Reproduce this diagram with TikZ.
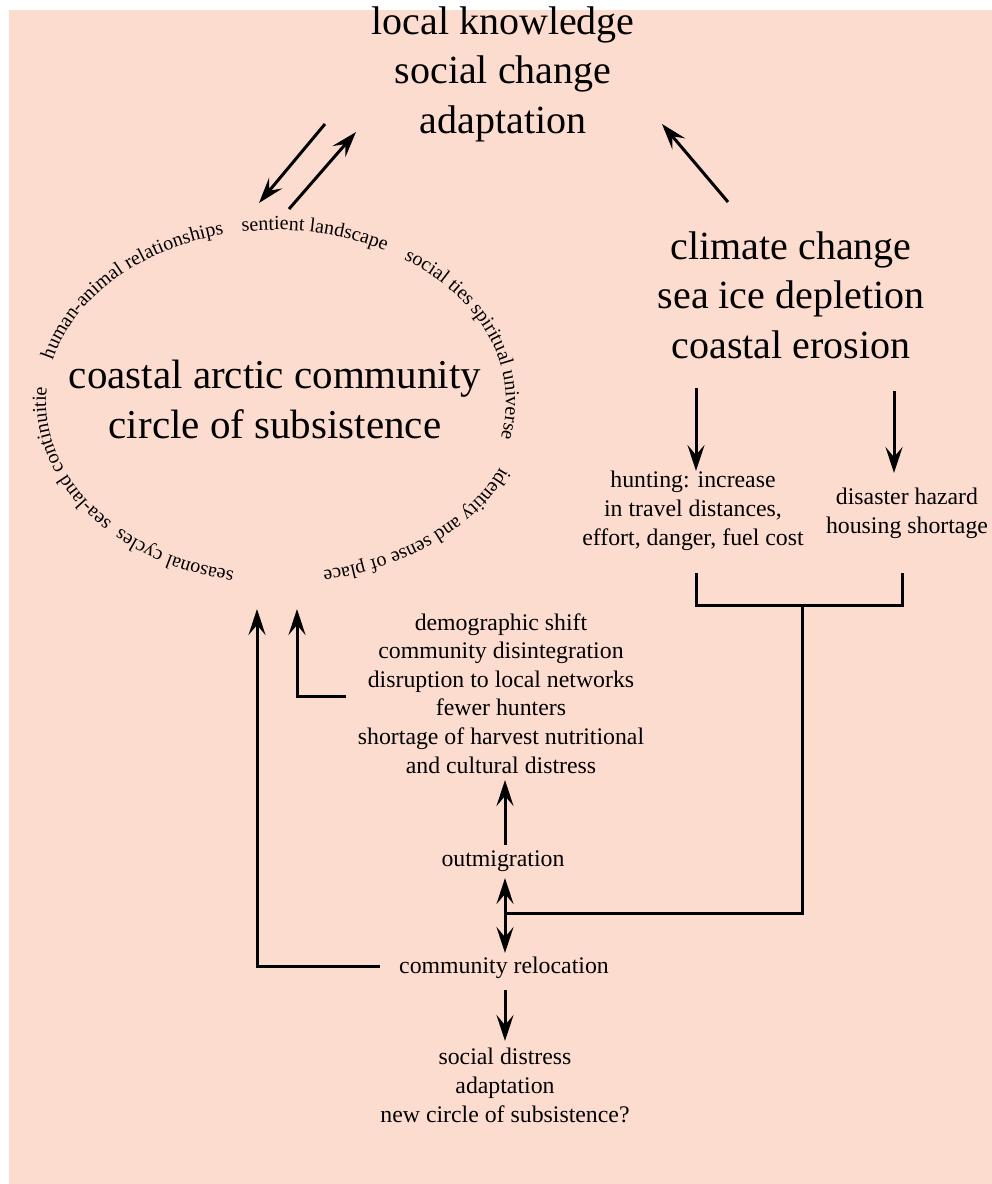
\documentclass[tikz,border=0pt]{standalone}
\usepackage{fontspec}
\setmainfont{Liberation Serif}
\usetikzlibrary{arrows.meta,decorations.text,calc}
\definecolor{bgsalmon}{RGB}{253,220,208}
\newcommand\bigtxt{\fontsize{40}{49.5}\selectfont}
\newcommand\bigtxtb{\fontsize{41}{50}\selectfont}
\newcommand\midtxt{\fontsize{23.8}{28.6}\selectfont}
\newcommand\ringtxt{\fontsize{20}{24}\selectfont}
\begin{document}
\begin{tikzpicture}[x=1pt,y=-1pt,
  lbl/.style={align=center, inner sep=0pt, anchor=base},
  big/.style={lbl, font=\bigtxt},
  mid/.style={lbl, font=\midtxt},
  tipa/.tip={Stealth[length=26pt,width=17pt,inset=10pt]},
  arr/.style={line width=3pt, -tipa},
  dbl/.style={line width=3pt, tipa-tipa},
  plainline/.style={line width=3pt},
  ring/.style={decorate, decoration={text along path, text align=left, text={|\ringtxt|#1}}}
]
\useasboundingbox (0,0) rectangle (992,1184);
\fill[bgsalmon] (9,10) rectangle (992,1184);

% text blocks (anchor = baseline of the last line)
\node[big] (top) at (503,133) {local knowledge\\social change\\adaptation};
\node[big] (climate) at (791,358) {climate change\\sea ice depletion\\coastal erosion};
\node[lbl, font=\bigtxtb] (coastal) at (275,438) {coastal arctic community\\circle of subsistence};
\node[mid] (hunt) at (693,545) {hunting: increase\\in travel distances,\\effort, danger, fuel cost};
\node[mid] (disaster) at (907,533) {disaster hazard\\housing shortage};
\node[mid] (demog) at (501,773) {demographic shift\\community disintegration\\disruption to local networks\\fewer hunters\\shortage of harvest nutritional\\and cultural distress};
\node[mid] (outmig) at (503,866) {outmigration};
\node[mid] (reloc) at (504,973) {community relocation};
\node[mid] (social) at (505,1122) {social distress\\adaptation\\new circle of subsistence?};

% ring labels around the circle of subsistence
\coordinate (C) at (276,402);
\path[ring={human-animal relationships}] (C) ++(194:230 and 172) arc[start angle=194, end angle=300, x radius=230, y radius=172];
\path[ring={sentient landscape}] (C) ++(261.5:230 and 172) arc[start angle=261.5, end angle=350, x radius=230, y radius=172];
\path[ring={social ties}] (C) ++(303.8:230 and 172) arc[start angle=303.8, end angle=380, x radius=230, y radius=172];
\path[ring={spiritual universe}] (C) ++(327.5:230 and 172) arc[start angle=327.5, end angle=420, x radius=230, y radius=172];
\path[ring={identity and sense of place}] (C) ++(22.2:242 and 172) arc[start angle=22.2, end angle=130, x radius=242, y radius=172];
\path[ring={seasonal cycles}] (C) ++(100.5:230 and 172) arc[start angle=100.5, end angle=170, x radius=230, y radius=172];
\path[ring={sea-land continuitie}] (C) ++(135.5:230 and 172) arc[start angle=135.5, end angle=200, x radius=230, y radius=172];

% connector end points
\coordinate (a1s) at (325,124); \coordinate (a1e) at (259,203);
\coordinate (a2s) at (289,209); \coordinate (a2e) at (356,132);
\coordinate (a3s) at (728,202); \coordinate (a3e) at (662,124);
\coordinate (a4s) at (696,388); \coordinate (a4e) at (696,471);
\coordinate (a5s) at (894,391); \coordinate (a5e) at (894,473);
\coordinate (bl) at (696,573); \coordinate (br) at (902,573);
\coordinate (bm) at (802,605); \coordinate (join) at (505,913);
\coordinate (dup) at (505,878); \coordinate (ddn) at (505,953);
\coordinate (oms) at (505,845); \coordinate (ome) at (505,780);
\coordinate (rls) at (505,990); \coordinate (rle) at (505,1041);
\coordinate (l1s) at (380,966); \coordinate (l1e) at (257,609);
\coordinate (l2s) at (346,696); \coordinate (l2e) at (297,609);

\draw[arr] (a1s) -- (a1e);
\draw[arr] (a2s) -- (a2e);
\draw[arr] (a3s) -- (a3e);
\draw[arr] (a4s) -- (a4e);
\draw[arr] (a5s) -- (a5e);
\draw[plainline] (bl) -- (bl |- bm) -- (br |- bm) -- (br);
\draw[plainline] (bm) -- (bm |- join) -- (join);
\draw[dbl] (dup) -- (ddn);
\draw[arr] (oms) -- (ome);
\draw[arr] (rls) -- (rle);
\draw[arr] (l1s) -- (l1e |- l1s) -- (l1e);
\draw[arr] (l2s) -- (l2e |- l2s) -- (l2e);
\end{tikzpicture}
\end{document}
